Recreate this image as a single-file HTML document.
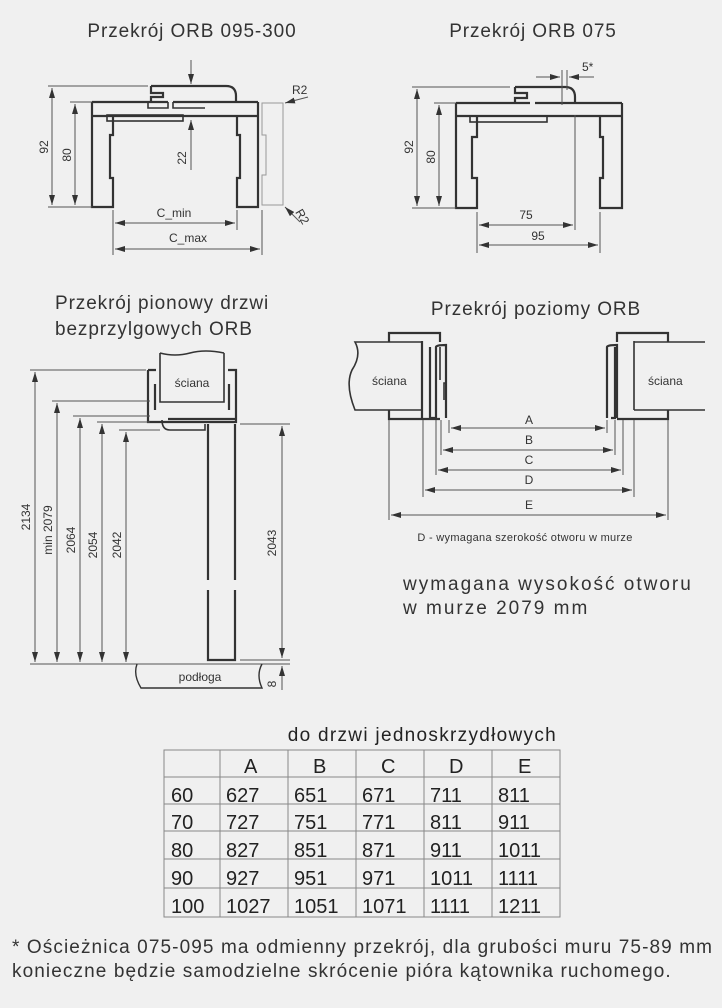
<!DOCTYPE html>
<html><head><meta charset="utf-8"><style>
body{margin:0;background:#f0f0f0;}
svg{display:block;font-family:"Liberation Sans","DejaVu Sans",sans-serif;}
.t{fill:#333;font-size:19px;letter-spacing:0.9px;}
.d{fill:#333;font-size:12px;}
.k{stroke:#333;stroke-width:2.2;fill:none;}
.g{stroke:#555;stroke-width:1;fill:none;}
.l{stroke:#999;stroke-width:1;fill:none;}
</style></head><body>
<svg width="722" height="1008" viewBox="0 0 722 1008">
<defs>
<marker id="a" viewBox="0 0 10 6" refX="10" refY="3" markerWidth="10" markerHeight="6" orient="auto-start-reverse"><path d="M0,0L10,3L0,6z" fill="#333"/></marker>
</defs>
<rect width="722" height="1008" fill="#f0f0f0"/>
<!-- titles -->
<text class="t" x="192" y="37" text-anchor="middle">Przekrój ORB 095-300</text>
<text class="t" x="533" y="37" text-anchor="middle">Przekrój ORB 075</text>
<text class="t" x="55" y="309">Przekrój pionowy drzwi</text>
<text class="t" x="55" y="335">bezprzylgowych ORB</text>
<text class="t" x="536" y="315" text-anchor="middle">Przekrój poziomy ORB</text>
<text class="t" x="403" y="590" style="letter-spacing:2px">wymagana wysokość otworu</text>
<text class="t" x="403" y="614" style="letter-spacing:2px">w murze 2079 mm</text>

<!-- ORB 095-300 -->
<g>
<path class="k" d="M92,102H168M173,102H258M92,116H258M92,102V207H113V178H110V135H113V116M258,102V207H237V178H240V135H237V116"/>
<path class="k" d="M151,86H226Q236,86 236,96V102M151,86V93H163V97H151V102"/>
<rect class="k" x="107" y="115" width="76" height="6" style="stroke-width:1.6"/>
<path class="k" d="M148,102V108H168V102M173,102V108H205" style="stroke-width:1.6"/>
<path class="l" d="M262,103H283V205H262V175H266V135H262Z"/>
<path class="g" d="M48,86H148M70,102H92M48,207H92"/>
<line class="g" x1="52" y1="88" x2="52" y2="205" marker-start="url(#a)" marker-end="url(#a)"/>
<line class="g" x1="75" y1="104" x2="75" y2="205" marker-start="url(#a)" marker-end="url(#a)"/>
<line class="g" x1="191" y1="60" x2="191" y2="84" marker-end="url(#a)"/>
<line class="g" x1="191" y1="170" x2="191" y2="120" marker-end="url(#a)"/>
<path class="g" d="M113,210V255M237,210V230M262,210V255"/>
<line class="g" x1="115" y1="223" x2="235" y2="223" marker-start="url(#a)" marker-end="url(#a)"/>
<line class="g" x1="115" y1="249" x2="260" y2="249" marker-start="url(#a)" marker-end="url(#a)"/>
<text class="d" x="174" y="217" text-anchor="middle">C_min</text>
<text class="d" x="188" y="242" text-anchor="middle">C_max</text>
<text class="d" transform="translate(48,147) rotate(-90)" text-anchor="middle">92</text>
<text class="d" transform="translate(71,155) rotate(-90)" text-anchor="middle">80</text>
<text class="d" transform="translate(186,158) rotate(-90)" text-anchor="middle">22</text>
<line class="g" x1="308" y1="97" x2="285" y2="103" marker-end="url(#a)"/>
<text class="d" x="292" y="94">R2</text>
<line class="g" x1="300" y1="222" x2="285" y2="207" marker-end="url(#a)"/>
<text class="d" transform="translate(295,212) rotate(60)">R2</text>
</g>

<!-- ORB 075 -->
<g>
<path class="k" d="M456,103H530M535,103H622M456,116H622M456,103V208H477V178H472V137H477V116M622,103V208H600V178H603V137H600V116"/>
<path class="k" d="M515,87H565Q575,87 575,97V103M515,87V93H527V98H515V103"/>
<rect class="k" x="470" y="116" width="77" height="6" style="stroke-width:1.6"/>
<path class="g" d="M412,87H510M434,103H456M412,208H456M562,70V105M567,70V90M575,115V230M477,212V253M600,212V253"/>
<line class="g" x1="417" y1="89" x2="417" y2="206" marker-start="url(#a)" marker-end="url(#a)"/>
<line class="g" x1="439" y1="105" x2="439" y2="206" marker-start="url(#a)" marker-end="url(#a)"/>
<line class="g" x1="536" y1="77" x2="560" y2="77" marker-end="url(#a)"/>
<line class="g" x1="594" y1="77" x2="569" y2="77" marker-end="url(#a)"/>
<text class="d" x="582" y="71">5*</text>
<line class="g" x1="479" y1="225" x2="573" y2="225" marker-start="url(#a)" marker-end="url(#a)"/>
<line class="g" x1="479" y1="245" x2="598" y2="245" marker-start="url(#a)" marker-end="url(#a)"/>
<text class="d" x="526" y="219" text-anchor="middle">75</text>
<text class="d" x="538" y="240" text-anchor="middle">95</text>
<text class="d" transform="translate(413,147) rotate(-90)" text-anchor="middle">92</text>
<text class="d" transform="translate(435,157) rotate(-90)" text-anchor="middle">80</text>
</g>

<!-- Horizontal section -->
<g>
<path class="k" style="stroke-width:1.6" d="M422,342H355Q362,355 352,370Q345,385 355,410H422Z"/>
<path class="k" d="M389,342V333H440V342M389,410V419H440M422,341V418M430,347V418H436V347Q436,345 446,345V418"/>
<path class="k" style="stroke-width:1.6" d="M440,347V380M446,383H444V400"/>
<path class="k" style="stroke-width:1.6" d="M634,342H705M634,410H705M634,341V410"/>
<path class="k" d="M668,342V333H617V342M668,410V419H617M607,347V418M615,347V418H611M607,347Q607,345 617,345V418"/>
<text class="d" x="372" y="385">ściana</text>
<text class="d" x="648" y="385">ściana</text>
<path class="g" d="M389,420V520M423,420V497M436,420V475M441,420V455M449,420V433M607,420V433M615,420V455M623,420V475M634,420V497M668,420V520"/>
<line class="g" x1="451" y1="428" x2="605" y2="428" marker-start="url(#a)" marker-end="url(#a)"/>
<line class="g" x1="443" y1="450" x2="613" y2="450" marker-start="url(#a)" marker-end="url(#a)"/>
<line class="g" x1="438" y1="470" x2="621" y2="470" marker-start="url(#a)" marker-end="url(#a)"/>
<line class="g" x1="425" y1="490" x2="632" y2="490" marker-start="url(#a)" marker-end="url(#a)"/>
<line class="g" x1="391" y1="515" x2="666" y2="515" marker-start="url(#a)" marker-end="url(#a)"/>
<text class="d" x="529" y="424" text-anchor="middle">A</text>
<text class="d" x="529" y="444" text-anchor="middle">B</text>
<text class="d" x="529" y="464" text-anchor="middle">C</text>
<text class="d" x="529" y="484" text-anchor="middle">D</text>
<text class="d" x="529" y="509" text-anchor="middle">E</text>
<text x="525" y="541" text-anchor="middle" style="fill:#333;font-size:11px;letter-spacing:0.3px">D - wymagana szerokość otworu w murze</text>
</g>

<!-- Vertical section -->
<g>
<path class="k" style="stroke-width:1.6" d="M160,353V402H224V353M160,353Q175,357 190,353Q205,349 224,353"/>
<path class="k" d="M148,370V422H236V370H228M148,370H156M155,384V410M229,384V410M168,419H236M208,424V580M235,424V580M208,590V660H235V590"/>
<path class="k" style="stroke-width:1.6" d="M162,420Q162,430 170,430H205V424"/>
<text class="d" x="192" y="387" text-anchor="middle">ściana</text>
<path class="g" d="M30,370H146M52,401H150M73,416H150M97,422H150M119,430H160M240,424H290M240,660H290M255,664H290M30,664H290"/>
<line class="g" x1="35" y1="372" x2="35" y2="662" marker-start="url(#a)" marker-end="url(#a)"/>
<line class="g" x1="57" y1="403" x2="57" y2="662" marker-start="url(#a)" marker-end="url(#a)"/>
<line class="g" x1="80" y1="418" x2="80" y2="662" marker-start="url(#a)" marker-end="url(#a)"/>
<line class="g" x1="102" y1="424" x2="102" y2="662" marker-start="url(#a)" marker-end="url(#a)"/>
<line class="g" x1="126" y1="432" x2="126" y2="662" marker-start="url(#a)" marker-end="url(#a)"/>
<line class="g" x1="282" y1="426" x2="282" y2="658" marker-start="url(#a)" marker-end="url(#a)"/>
<line class="g" x1="282" y1="690" x2="282" y2="666" marker-end="url(#a)"/>
<path class="k" style="stroke-width:1.4" d="M137,664Q133,675 141,688H262Q256,675 262,664"/>
<text class="d" x="200" y="681" text-anchor="middle">podłoga</text>
<text class="d" transform="translate(30,517) rotate(-90)" text-anchor="middle">2134</text>
<text class="d" transform="translate(52,530) rotate(-90)" text-anchor="middle">min  2079</text>
<text class="d" transform="translate(75,540) rotate(-90)" text-anchor="middle">2064</text>
<text class="d" transform="translate(97,545) rotate(-90)" text-anchor="middle">2054</text>
<text class="d" transform="translate(121,545) rotate(-90)" text-anchor="middle">2042</text>
<text class="d" transform="translate(276,543) rotate(-90)" text-anchor="middle">2043</text>
<text class="d" transform="translate(276,684) rotate(-90)" text-anchor="middle">8</text>
</g>

<!-- table -->
<g style="font-size:20px;fill:#222">
<text x="557" y="741" text-anchor="end" style="font-size:19px;letter-spacing:1.3px">do drzwi jednoskrzydłowych</text>
<rect x="164" y="750" width="396" height="167" fill="none" stroke="#888"/>
<path stroke="#888" d="M220,750V917M288,750V917M356,750V917M424,750V917M492,750V917M164,777H560M164,804H560M164,831H560M164,859H560M164,888H560"/>
<text x="244" y="773">A</text><text x="313" y="773">B</text><text x="381" y="773">C</text><text x="449" y="773">D</text><text x="518" y="773">E</text>
<text x="171" y="802">60</text><text x="226" y="802">627</text><text x="294" y="802">651</text><text x="362" y="802">671</text><text x="430" y="802">711</text><text x="498" y="802">811</text>
<text x="171" y="829">70</text><text x="226" y="829">727</text><text x="294" y="829">751</text><text x="362" y="829">771</text><text x="430" y="829">811</text><text x="498" y="829">911</text>
<text x="171" y="857">80</text><text x="226" y="857">827</text><text x="294" y="857">851</text><text x="362" y="857">871</text><text x="430" y="857">911</text><text x="498" y="857">1011</text>
<text x="171" y="885">90</text><text x="226" y="885">927</text><text x="294" y="885">951</text><text x="362" y="885">971</text><text x="430" y="885">1011</text><text x="498" y="885">1111</text>
<text x="171" y="913">100</text><text x="226" y="913">1027</text><text x="294" y="913">1051</text><text x="362" y="913">1071</text><text x="430" y="913">1111</text><text x="498" y="913">1211</text>
</g>
<text x="12" y="953" style="fill:#333;font-size:19px;letter-spacing:1.1px">* Ościeżnica 075-095 ma odmienny przekrój, dla grubości muru 75-89 mm</text>
<text x="12" y="977" style="fill:#333;font-size:19px;letter-spacing:1.1px">konieczne będzie samodzielne skrócenie pióra kątownika ruchomego.</text>
</svg>
</body></html>
